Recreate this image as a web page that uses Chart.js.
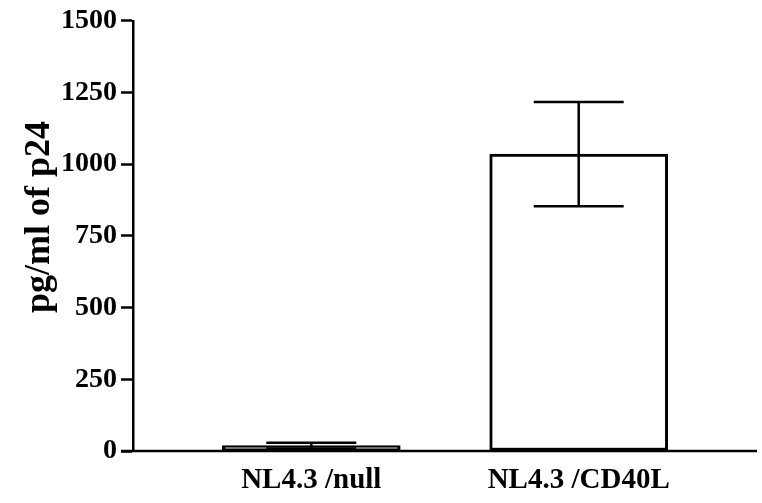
<!DOCTYPE html>
<html>
<head>
<meta charset="utf-8">
<script src="https://cdn.jsdelivr.net/npm/chart.js@4/dist/chart.umd.min.js"></script>
<style>
  html, body { margin: 0; padding: 0; background: #fff; }
  #wrap { width: 762px; height: 503px; position: relative; }
</style>
</head>
<body>
<div id="wrap"><canvas id="c" width="762" height="503"></canvas></div>
<script>
const categories = ['NL4.3 /null', 'NL4.3 /CD40L'];
const means = [19, 1035];
const errors = [10, 182];
const yTicks = [0, 250, 500, 750, 1000, 1250, 1500];
const yTitle = 'pg/ml of p24';

const FONT = "'Liberation Serif', 'Times New Roman', serif";

const errorBars = {
  id: 'errorBars',
  afterDatasetsDraw(chart) {
    const { ctx, scales: { x, y } } = chart;
    ctx.save();
    ctx.strokeStyle = '#000';
    ctx.lineWidth = 2.5;
    means.forEach((m, i) => {
      const px = x.getPixelForValue(i);
      const top = y.getPixelForValue(m + errors[i]);
      const bot = y.getPixelForValue(m - errors[i]);
      const hw = 45;
      ctx.beginPath();
      ctx.moveTo(px, top); ctx.lineTo(px, bot);
      ctx.moveTo(px - hw, top); ctx.lineTo(px + hw, top);
      ctx.moveTo(px - hw, bot); ctx.lineTo(px + hw, bot);
      ctx.stroke();
    });
    // x axis baseline, extended left by the y tick length
    const yb = y.getPixelForValue(0);
    ctx.lineWidth = 2.5;
    ctx.beginPath();
    ctx.moveTo(chart.chartArea.left - 12, yb);
    ctx.lineTo(chart.chartArea.right, yb);
    ctx.stroke();
    ctx.restore();
  }
};

const yTitlePlugin = {
  id: 'yTitle',
  afterDraw(chart) {
    const { ctx } = chart;
    ctx.save();
    ctx.translate(40, 217);
    ctx.rotate(-Math.PI / 2);
    ctx.font = 'bold 36px ' + FONT;
    ctx.fillStyle = '#000';
    ctx.textAlign = 'center';
    ctx.textBaseline = 'middle';
    ctx.fillText(yTitle, 0, 0);
    ctx.restore();
  }
};

new Chart(document.getElementById('c'), {
  type: 'bar',
  data: {
    datasets: [{
      data: means.map((v, i) => ({ x: i, y: v })),
      backgroundColor: '#ffffff',
      borderColor: '#000000',
      borderWidth: 3,
      borderSkipped: false,
      barThickness: 178
    }]
  },
  options: {
    responsive: false,
    animation: false,
    events: [],
    layout: { padding: { top: 20, right: 5, bottom: 0, left: 0 } },
    plugins: { legend: { display: false }, tooltip: { enabled: false } },
    scales: {
      x: {
        type: 'linear',
        offset: false,
        min: -2 / 3,
        max: 5 / 3,
        afterBuildTicks(scale) { scale.ticks = categories.map((c, i) => ({ value: i })); },
        afterFit(scale) { scale.height = 52; },
        grid: { display: false, drawTicks: false, offset: false },
        border: { display: false },
        ticks: {
          autoSkip: false,
          maxRotation: 0,
          padding: 12,
          color: '#000',
          font: { family: FONT, size: 29, weight: 'bold' },
          callback: (v) => categories[v] ?? ''
        }
      },
      y: {
        min: 0,
        max: 1500,
        afterBuildTicks(scale) { scale.ticks = yTicks.map(v => ({ value: v })); },
        afterFit(scale) { scale.width = 133; },
        grid: { drawOnChartArea: false, drawTicks: true, tickLength: 12, tickWidth: 2.5, tickColor: '#000' },
        border: { display: true, color: '#000', width: 2.5 },
        ticks: {
          padding: 4,
          color: '#000',
          font: { family: FONT, size: 28, weight: 'bold' },
          callback: (v) => String(v)
        }
      }
    }
  },
  plugins: [errorBars, yTitlePlugin]
});
</script>
</body>
</html>
